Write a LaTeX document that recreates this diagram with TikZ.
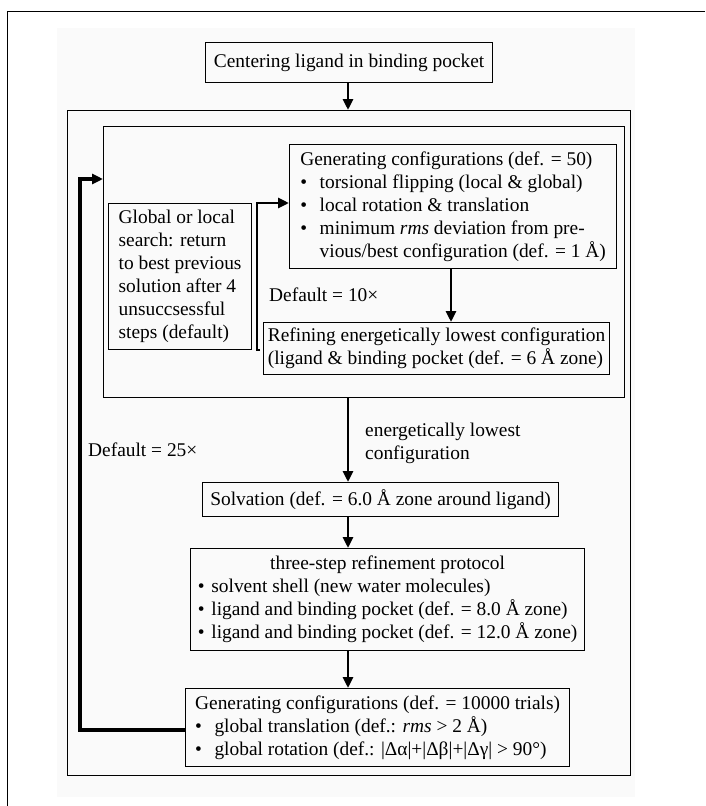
\documentclass[tikz,border=0pt]{standalone}
\usepackage{fontspec}
\setmainfont{Liberation Serif}
\usetikzlibrary{arrows.meta}
\newcommand\bl{\makebox[1em][l]{\textbullet}}
\newcommand\blt{\makebox[0.7em][l]{\textbullet}}
\begin{document}
\begin{tikzpicture}[x=1pt,y=-1pt,
  font=\fontsize{19.4}{23}\selectfont,
  box/.style={draw=black, line width=1.2pt, inner sep=0pt, align=left, anchor=north west},
  lbl/.style={inner sep=0pt, anchor=west, align=left},
  arr/.style={line width=2.8pt, -{Triangle[length=11pt,width=10pt]}},
  fat/.style={line width=3.2pt}]
\useasboundingbox (0,0) rectangle (705,806);
\fill[black!2] (57,28) rectangle (635,797);
\draw[line width=1pt] (705,11) -- (7,11) -- (7,806);

\node[box, minimum width=287pt, minimum height=40pt] (cen) at (205,42) {Centering ligand in binding pocket};
\node[box, minimum width=563pt, minimum height=665pt] (big) at (67,110) {};
\node[box, minimum width=521pt, minimum height=271pt] (inner) at (103,126) {};
\node[box, minimum width=327pt, minimum height=124pt] (g50) at (289,144)
  {Generating configurations (def. = 50)\\
   \bl torsional flipping (local \& global)\\
   \bl local rotation \& translation\\
   \bl minimum \textit{rms} deviation from pre-\\
   \hspace*{1em}vious/best configuration (def. = 1 Å)};
\node[box, minimum width=143pt, minimum height=146pt] (glob) at (108,203)
  {Global or local\\search: return\\to best previous\\solution after 4\\unsuccsessful\\steps (default)};
\node[box, minimum width=346pt, minimum height=52pt] (ref) at (263,322)
  {Refining energetically lowest configuration\\(ligand \& binding pocket (def. = 6 Å zone)};
\node[box, minimum width=356pt, minimum height=34pt] (sol) at (202,482)
  {Solvation (def. = 6.0 Å zone around ligand)};
\node[box, minimum width=394pt, minimum height=102pt] (three) at (190,548)
  {\begin{tabular}{@{}l@{}}\multicolumn{1}{@{}c@{}}{three-step refinement protocol}\\
   \blt solvent shell (new water molecules)\\
   \blt ligand and binding pocket (def. = 8.0 Å zone)\\
   \blt ligand and binding pocket (def. = 12.0 Å zone)\end{tabular}};
\node[box, minimum width=384pt, minimum height=78pt] (g10) at (185,688)
  {Generating configurations (def. = 10000 trials)\\
   \bl global translation (def.: \textit{rms} > 2 Å)\\
   \bl global rotation (def.: |Δα|+|Δβ|+|Δγ| > 90°)};

\node[lbl] (d10) at (269,295) {Default = 10×};
\node[lbl] (elc) at (365,443) {energetically lowest\\configuration};
\node[lbl] (d25) at (88,450) {Default = 25×};

\coordinate (col) at (348,0);
\coordinate (col2) at (451,0);
\coordinate (b1) at (257,350);
\coordinate (b2) at (257,203);
\coordinate (c1) at (80,730);
\coordinate (c2) at (80,179);

\draw[arr] (cen.south -| col) -- (big.north -| col);
\draw[arr] (g50.south -| col2) -- (ref.north -| col2);
\draw[arr] (inner.south -| col) -- (sol.north -| col);
\draw[arr] (sol.south -| col) -- (three.north -| col);
\draw[arr] (three.south -| col) -- (g10.north -| col);
\draw[line width=2.8pt, line join=miter, -{Triangle[length=11pt,width=10pt]}]
  ([xshift=3pt]b1) -- (b1) -- (b2) -- (g50.west |- b2);
\draw[fat, line join=miter, -{Triangle[length=11pt,width=10pt]}]
  (g10.west |- c1) -- (c1) -- (c2) -- (inner.west |- c2);
\end{tikzpicture}
\end{document}
